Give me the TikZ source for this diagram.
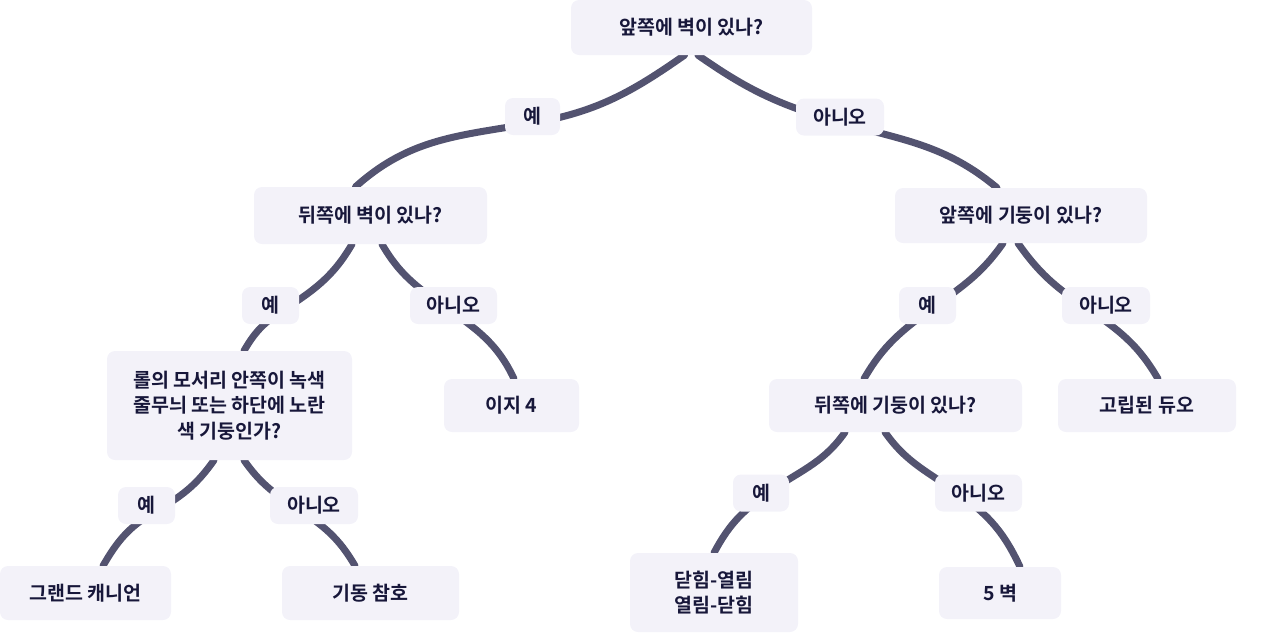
\documentclass[tikz,border=0pt]{standalone}
\usepackage{fontspec}
\setmainfont{Noto Sans CJK KR}[BoldFont={* Bold}]
\definecolor{boxfill}{HTML}{F3F2F9}
\definecolor{edgec}{HTML}{535370}
\definecolor{txt}{HTML}{17173A}
\pgfdeclarelayer{edges}
\pgfsetlayers{edges,main}
\begin{document}
\begin{tikzpicture}[x=1pt,y=1pt,
  box/.style={rectangle, rounded corners=8pt, fill=boxfill, inner sep=0pt, align=center,
    text=txt, font=\bfseries\fontsize{19.5}{25.5}\selectfont},
  lbl/.style={box, minimum height=37},
  edge/.style={draw=edgec, line width=7pt, line cap=round}]
\useasboundingbox (0,0) rectangle (1261,-633);
% main boxes
\node[box, minimum width=241, minimum height=55] (root) at (691.5,-27.5) {앞쪽에 벽이 있나?};
\node[box, minimum width=233, minimum height=57] (L1) at (370.5,-215.5) {뒤쪽에 벽이 있나?};
\node[box, minimum width=252, minimum height=55] (R1) at (1021,-215.5) {앞쪽에 기둥이 있나?};
\node[box, minimum width=245, minimum height=109] (LL) at (229.5,-405.5) {롤의 모서리 안쪽이 녹색\\줄무늬 또는 하단에 노란\\색 기둥인가?};
\node[box, minimum width=135, minimum height=53] (ez) at (511.5,-405.5) {이지 4};
\node[box, minimum width=253, minimum height=53] (bc) at (895.5,-405.5) {뒤쪽에 기둥이 있나?};
\node[box, minimum width=178, minimum height=53] (gd) at (1147,-405.5) {고립된 듀오};
\node[box, minimum width=171, minimum height=54] (gc) at (85.5,-593) {그랜드 캐니언};
\node[box, minimum width=177, minimum height=54] (gt) at (370.5,-593) {기동 참호};
\node[box, minimum width=168, minimum height=79] (dh) at (714,-592.5) {닫힘-열림\\열림-닫힘};
\node[box, minimum width=122, minimum height=52] (wb) at (1000,-593) {5 벽};
% labels
\node[lbl, minimum width=55] (yA) at (532.5,-116.5) {예};
\node[lbl, minimum width=88] (nA) at (840,-117) {아니오};
\node[lbl, minimum width=57] (yB) at (270.5,-305.5) {예};
\node[lbl, minimum width=87] (nB) at (453.5,-305.5) {아니오};
\node[lbl, minimum width=57] (yC) at (927.5,-305.5) {예};
\node[lbl, minimum width=88] (nC) at (1106,-305.5) {아니오};
\node[lbl, minimum width=56] (yD) at (761,-493) {예};
\node[lbl, minimum width=87] (nD) at (978.5,-493) {아니오};
\node[lbl, minimum width=57] (yE) at (146.5,-505.5) {예};
\node[lbl, minimum width=88] (nE) at (314,-505.5) {아니오};
% edges
\begin{pgfonlayer}{edges}
\draw[edge] ([xshift=-7]root.south) to[out=215,in=10] ([xshift=0.5,yshift=-6.5]yA.center)
  to[out=190,in=42] ([xshift=-15]L1.north);
\draw[edge] ([xshift=6.5]root.south) to[out=-35,in=164] ([xshift=-3,yshift=-4.5]nA.center)
  to[out=-16,in=140] ([xshift=-24]R1.north);
\draw[edge] ([xshift=-18.5]L1.south) to[out=240,in=33] ([xshift=10,yshift=-6.5]yB.center)
  to[out=213,in=60] ([xshift=14.5]LL.north);
\draw[edge] ([xshift=11.5]L1.south) to[out=300,in=145] ([xshift=-9,yshift=-1]nB.center)
  to[out=325,in=115] ([xshift=2.5]ez.north);
\draw[edge] ([xshift=-18]R1.south) to[out=235,in=36] ([xshift=4.5,yshift=-3]yC.center)
  to[out=216,in=60] ([xshift=-31.5]bc.north);
\draw[edge] ([xshift=-3]R1.south) to[out=305,in=146] ([xshift=-21,yshift=-1.5]nC.center)
  to[out=326,in=120] ([xshift=11]gd.north);
\draw[edge] ([xshift=-15.5]LL.south) to[out=235,in=30] ([xshift=8,yshift=-6.5]yE.center)
  to[out=210,in=60] ([xshift=17.5]gc.north);
\draw[edge] ([xshift=14.5]LL.south) to[out=305,in=147] ([xshift=-17.5,yshift=-2.5]nE.center)
  to[out=327,in=120] ([xshift=-15.5]gt.north);
\draw[edge] ([xshift=-50.5]bc.south) to[out=235,in=36] ([xshift=4,yshift=-2]yD.center)
  to[out=216,in=62] (dh.north);
\draw[edge] ([xshift=-10.5]bc.south) to[out=305,in=144] ([xshift=-18,yshift=-2]nD.center)
  to[out=324,in=115] ([xshift=20]wb.north);
\end{pgfonlayer}
\end{tikzpicture}
\end{document}
